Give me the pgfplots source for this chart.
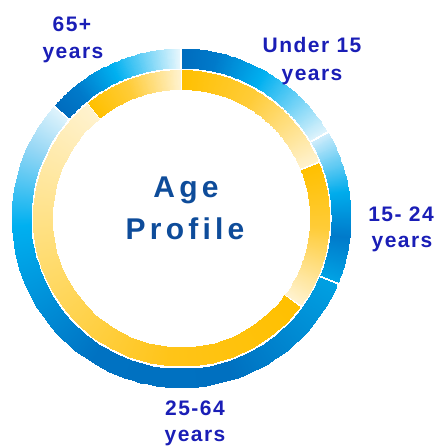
\documentclass[border=0pt]{standalone}
\usepackage{pgfplots}
\pgfplotsset{compat=1.18}
\usepackage{fontspec}
\setmainfont{Liberation Sans}
\newfontfamily\labfont{Liberation Sans}[LetterSpace=7]
\newfontfamily\titfont{Liberation Sans}[LetterSpace=14]
\definecolor{labblue}{RGB}{26,30,182}
\definecolor{titblue}{RGB}{14,76,154}

\pgfplotsset{
  colormap={bU}{rgb255(0cm)=(0,108,190) rgb255(2cm)=(0,122,202) rgb255(5cm)=(0,176,240) rgb255(10cm)=(222,243,252)},
  colormap={bB}{rgb255(0cm)=(205,236,251) rgb255(4cm)=(0,172,236) rgb255(7cm)=(0,122,202) rgb255(10cm)=(0,162,228)},
  colormap={bC}{rgb255(0cm)=(0,160,226) rgb255(2.5cm)=(0,112,192) rgb255(5cm)=(0,114,194) rgb255(7.8cm)=(0,176,240) rgb255(9.2cm)=(150,215,245) rgb255(10cm)=(222,243,252)},
  colormap={bD}{rgb255(0cm)=(0,108,190) rgb255(2cm)=(0,122,202) rgb255(5cm)=(0,176,240) rgb255(10cm)=(232,247,253)},
  colormap={yA}{rgb255(0cm)=(255,192,0) rgb255(4.5cm)=(255,204,56) rgb255(10cm)=(255,242,206)},
  colormap={yC}{rgb255(0cm)=(255,192,0) rgb255(3cm)=(255,196,24) rgb255(6.5cm)=(255,220,112) rgb255(10cm)=(255,242,206)},
}

% shares in percent (outer ring / inner ring)
\def\oA{16.5}\def\oB{14.8}\def\oC{55.2}\def\oD{13.5}
\def\iA{18.8}\def\iB{16.3}\def\iC{54.0}\def\iD{10.9}

\newcommand\seg[5]{%
  \addplot3[surf, shader=interp, colormap name=#5, domain=0:1, y domain=#3:#4,
    samples=72, samples y=2, point meta=z]
    ({181+y*sin(#1+0.4+x*(#2-#1-0.8))}, {228+y*cos(#1+0.4+x*(#2-#1-0.8))}, {x});}

\begin{document}
\begin{tikzpicture}
\pgfmathsetmacro\oa{0}
\pgfmathsetmacro\ob{\oa+3.6*\oA}
\pgfmathsetmacro\oc{\ob+3.6*\oB}
\pgfmathsetmacro\od{\oc+3.6*\oC}
\pgfmathsetmacro\oe{\od+3.6*\oD}
\pgfmathsetmacro\ia{0}
\pgfmathsetmacro\ib{\ia+3.6*\iA}
\pgfmathsetmacro\ic{\ib+3.6*\iB}
\pgfmathsetmacro\id{\ic+3.6*\iC}
\pgfmathsetmacro\ie{\id+3.6*\iD}
\begin{axis}[view={0}{90}, scale only axis, width=437pt, height=446pt,
  xmin=0, xmax=437, ymin=0, ymax=446, zmin=0, zmax=1,
  hide axis, clip=false, point meta min=0, point meta max=1]
\seg{\oa}{\ob}{150.5}{169.5}{bU}
\seg{\ob}{\oc}{150.5}{169.5}{bB}
\seg{\oc}{\od}{150.5}{169.5}{bC}
\seg{\od}{\oe}{150.5}{169.5}{bD}
\seg{\ia}{\ib}{129}{148}{yA}
\seg{\ib}{\ic}{129}{148}{yA}
\seg{\ic}{\id}{129}{148}{yC}
\seg{\id}{\ie}{129}{148}{yA}
\coordinate (SWc) at (axis cs:0,0,0);
\coordinate (NEc) at (axis cs:437,446,0);
\begin{scope}[every node/.style={anchor=base, text=labblue, inner sep=0pt,
   font=\labfont\bfseries\fontsize{21}{28}\selectfont}]
\node at (axis cs:72,414,0) {65+};
\node at (axis cs:73,387,0) {years};
\node at (axis cs:312,393,0) {Under 15};
\node at (axis cs:312,365,0) {years};
\node at (axis cs:401,224,0) {15- 24};
\node at (axis cs:402,198,0) {years};
\node at (axis cs:195,30,0) {25-64};
\node at (axis cs:195,5,0) {years};
\end{scope}
\node[anchor=base, text=titblue, inner sep=0pt, font=\titfont\bfseries\fontsize{30}{36}\selectfont] at (axis cs:186,248,0) {Age};
\node[anchor=base, text=titblue, inner sep=0pt, font=\titfont\bfseries\fontsize{30}{36}\selectfont] at (axis cs:185,206,0) {Profile};
\end{axis}
\pgfresetboundingbox
\path (SWc) rectangle (NEc);
\end{tikzpicture}
\end{document}
